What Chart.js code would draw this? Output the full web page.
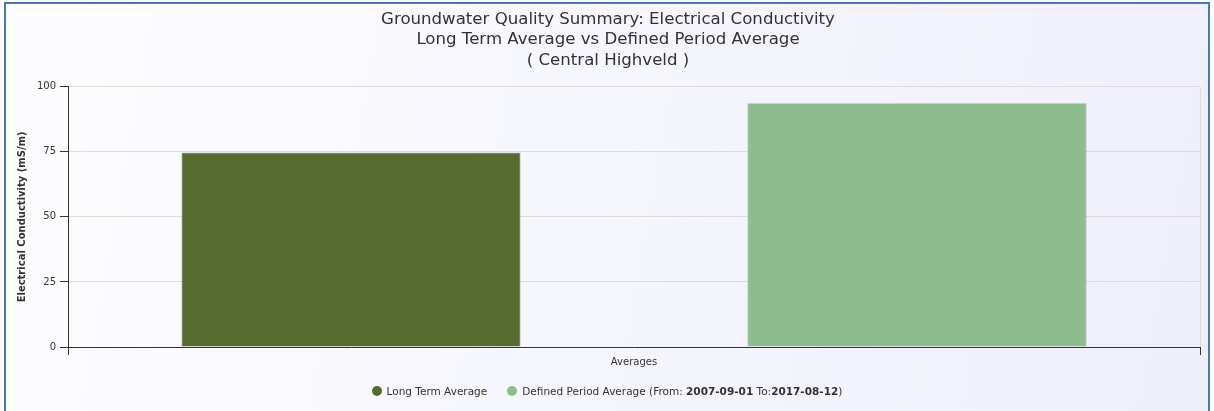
<!DOCTYPE html>
<html><head><meta charset="utf-8">
<script src="https://cdn.jsdelivr.net/npm/chart.js@4/dist/chart.umd.min.js"></script>
<style>
html,body{margin:0;padding:0;background:#fff;width:1214px;height:411px;overflow:hidden}
#frame{position:absolute;left:4px;top:2px;width:1202px;height:420px;border:2px solid #4a78b4;background:linear-gradient(100deg,#fdfdff 0%,#f6f6fd 45%,#efeffb 100%)}
#wrap{position:absolute;left:0;top:0;width:1214px;height:411px}
#legend{position:absolute;left:0;width:1214px;top:384px;text-align:center;font:10.5px "DejaVu Sans",sans-serif;color:#333;white-space:nowrap}
#legend .item{display:inline-block;margin:0 10px;vertical-align:middle}
#legend .dot{display:inline-block;width:10px;height:10px;border-radius:50%;vertical-align:-1px;margin-right:5px}
</style>
</head><body>
<div id="frame"></div>
<div id="wrap"><canvas id="c" width="1214" height="411"></canvas></div>
<div id="legend"></div>
<script>
const categories = ['Averages'];
const seriesNames = ['Long Term Average', 'Defined Period Average'];
const longTermAvg = [74.8];
const definedPeriodAvg = [93.8];
const seriesColors = ['#556b2f', '#8fbc8f'];
const yTickValues = [0, 25, 50, 75, 100];
const titleLines = ['Groundwater Quality Summary: Electrical Conductivity', 'Long Term Average vs Defined Period Average', '( Central Highveld )'];
const yAxisTitle = 'Electrical Conductivity (mS/m)';
const xAxisTitle = 'Averages';
const periodFrom = '2007-09-01';
const periodTo = '2017-08-12';

const FONT = '"DejaVu Sans", sans-serif';

const chart = new Chart(document.getElementById('c'), {
  type: 'bar',
  data: {
    labels: categories,
    datasets: [
      {label: seriesNames[0], data: longTermAvg, backgroundColor: seriesColors[0], borderColor: 'rgba(120,120,120,0.3)', borderWidth: 1},
      {label: seriesNames[1], data: definedPeriodAvg, backgroundColor: seriesColors[1], borderColor: 'rgba(120,120,120,0.3)', borderWidth: 1}
    ]
  },
  options: {
    responsive: false,
    animation: false,
    events: [],
    layout: {padding: {left: 16, right: 14, top: 9, bottom: 43}},
    datasets: {bar: {categoryPercentage: 1.0, barPercentage: 0.6}},
    plugins: {
      legend: {display: false},
      tooltip: {enabled: false},
      title: {display: true, text: titleLines, color: '#333',
        font: {family: FONT, size: 16.6, weight: 'normal', lineHeight: 1.24},
        padding: {top: 0, bottom: 16}}
    },
    scales: {
      x: {
        ticks: {display: false},
        grid: {color: '#dcdcdc', tickColor: '#333', tickLength: 8, offset: true},
        border: {color: '#333', width: 1},
        title: {display: true, text: xAxisTitle, color: '#333', font: {family: FONT, size: 10}, padding: {top: 1, bottom: 0}}
      },
      y: {
        min: 0, max: 100,
        afterBuildTicks: (s) => { s.ticks = yTickValues.map(v => ({value: v})); },
        ticks: {color: '#333', font: {family: FONT, size: 10}, padding: 4},
        grid: {color: '#dcdcdc', tickColor: '#333', tickLength: 8},
        border: {color: '#333', width: 1},
        title: {display: true, text: yAxisTitle, color: '#333', font: {family: FONT, size: 10, weight: 'bold'}, padding: {top: 0, bottom: 0}},
        afterFit: (s) => { s.width = 52; }
      }
    }
  }
});

const legend = document.getElementById('legend');
const labelsHtml = [
  seriesNames[0],
  seriesNames[1] + ' (From: <b>' + periodFrom + '</b> To:<b>' + periodTo + '</b>)'
];
legend.innerHTML = chart.data.datasets.map((d, i) =>
  '<span class="item"><span class="dot" style="background:' + d.backgroundColor + '"></span>' + labelsHtml[i] + '</span>'
).join('');
</script>
</body></html>
